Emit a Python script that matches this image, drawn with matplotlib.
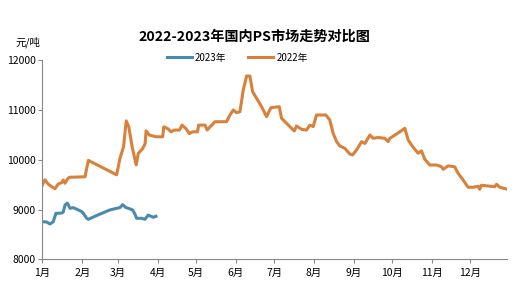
import matplotlib.pyplot as plt

plt.rcParams['font.family'] = ['Noto Sans CJK SC', 'DejaVu Sans']

# 月份刻度（年内第几天）
month_days = [0, 31, 59, 90, 120, 151, 181, 212, 243, 273, 304, 334]
month_labels = [f'{m}月' for m in range(1, 13)]

# 2022年（年内第几天, 元/吨）
day_2022 = [0, 1.9, 4.4, 7.2, 9.8, 12.3, 15, 16.2, 17.6, 19.4, 20.9, 33.2, 35.8,
            57.9, 60.5, 63.3, 65.4, 67.4, 70, 73.2, 74.8, 78.3, 80.2, 80.9,
            83.5, 88.7, 93.9, 94.7, 97.8, 100.4, 103, 106.9, 109, 112, 114.7,
            117.3, 121.1, 121.9, 126.9, 128.6, 134.7, 143.8, 146.4, 149, 151.6,
            154.2, 156.8, 159.4, 162, 164.1, 167.2, 171.1, 175, 178.4, 184.9,
            186.7, 190.6, 194.5, 196.6, 198.4, 202.3, 206.2, 208.8, 211.4, 214,
            221.3, 224.4, 227, 229.7, 232.2, 236.1, 240, 242.1, 245.3, 249.2,
            251.8, 255.7, 258.2, 262.1, 267.4, 269.9, 271.3, 276.5, 280.4, 283,
            285.6, 289.5, 293.4, 296, 298.6, 302.5, 307.7, 311.6, 312.9, 316.8,
            322, 324.6, 328.5, 332.4, 336.3, 340.2, 341.5, 342.8, 353.2, 354.6,
            357.1, 362.8]
price_2022 = [9500, 9600, 9515, 9460, 9420, 9516, 9542, 9596, 9530, 9610, 9650,
              9660, 9990, 9700, 10030, 10265, 10785, 10665, 10265, 9900, 10130,
              10230, 10330, 10585, 10500, 10465, 10465, 10665, 10630, 10565,
              10600, 10600, 10700, 10630, 10530, 10565, 10565, 10700, 10700,
              10600, 10768, 10768, 10903, 11004, 10950, 10970, 11406, 11688,
              11688, 11372, 11240, 11070, 10870, 11050, 11070, 10837, 10736,
              10636, 10582, 10682, 10616, 10600, 10700, 10670, 10903, 10903,
              10803, 10535, 10367, 10280, 10233, 10119, 10099, 10200, 10367,
              10330, 10501, 10435, 10450, 10435, 10367, 10435, 10521, 10588,
              10636, 10400, 10253, 10133, 10180, 10012, 9897, 9897, 9863, 9810,
              9880, 9860, 9730, 9596, 9449, 9449, 9470, 9409, 9490, 9460, 9510,
              9450, 9410]

# 2023年
day_2023 = [0, 3.3, 5.9, 8.4, 10.5, 15, 16.2, 17.6, 19.4, 21.5, 24, 28, 30.6,
            31.9, 34.5, 35.8, 44.9, 52.7, 57.9, 60.5, 62.6, 65.2, 67, 70.4,
            72.2, 73.5, 77.4, 80, 82.6, 86.5, 88.6]
price_2023 = [8757, 8750, 8710, 8757, 8925, 8930, 8950, 9093, 9130, 9026, 9040,
              8993, 8960, 8925, 8825, 8805, 8910, 8993, 9026, 9040, 9100, 9040,
              9026, 8993, 8910, 8825, 8825, 8805, 8890, 8845, 8865]

fig = plt.figure(figsize=(5.15, 3.02), dpi=100)
ax = fig.add_axes([0.0825, 0.1414, 0.9025, 0.6583])

ax.plot(day_2023, price_2023, color='#4B8AB0', lw=2.2, label='2023年')
ax.plot(day_2022, price_2022, color='#D9813A', lw=2.2, label='2022年')

ax.set_xlim(0, 363)
ax.set_ylim(8000, 12000)
ax.set_yticks([8000, 9000, 10000, 11000, 12000])
ax.set_xticks(month_days)
ax.set_xticklabels(month_labels)
ax.tick_params(labelsize=7.5, length=3, color='#888888')
ax.tick_params(axis='x', pad=3)
ax.tick_params(axis='y', pad=2)

for s in ['top', 'right']:
    ax.spines[s].set_visible(False)
for s in ['left', 'bottom']:
    ax.spines[s].set_color('#888888')

fig.text(0.494, 0.878, '2022-2023年国内PS市场走势对比图', ha='center', va='center',
         fontsize=10.2, fontweight='bold')
fig.text(0.03, 0.86, '元/吨', fontsize=7.5, va='center')

ax.legend(loc='lower center', bbox_to_anchor=(0.419, 0.945), ncol=2, frameon=False,
          fontsize=7, handlelength=2.6, columnspacing=2.2, handletextpad=0.3)

fig.savefig('out.png', dpi=100)
